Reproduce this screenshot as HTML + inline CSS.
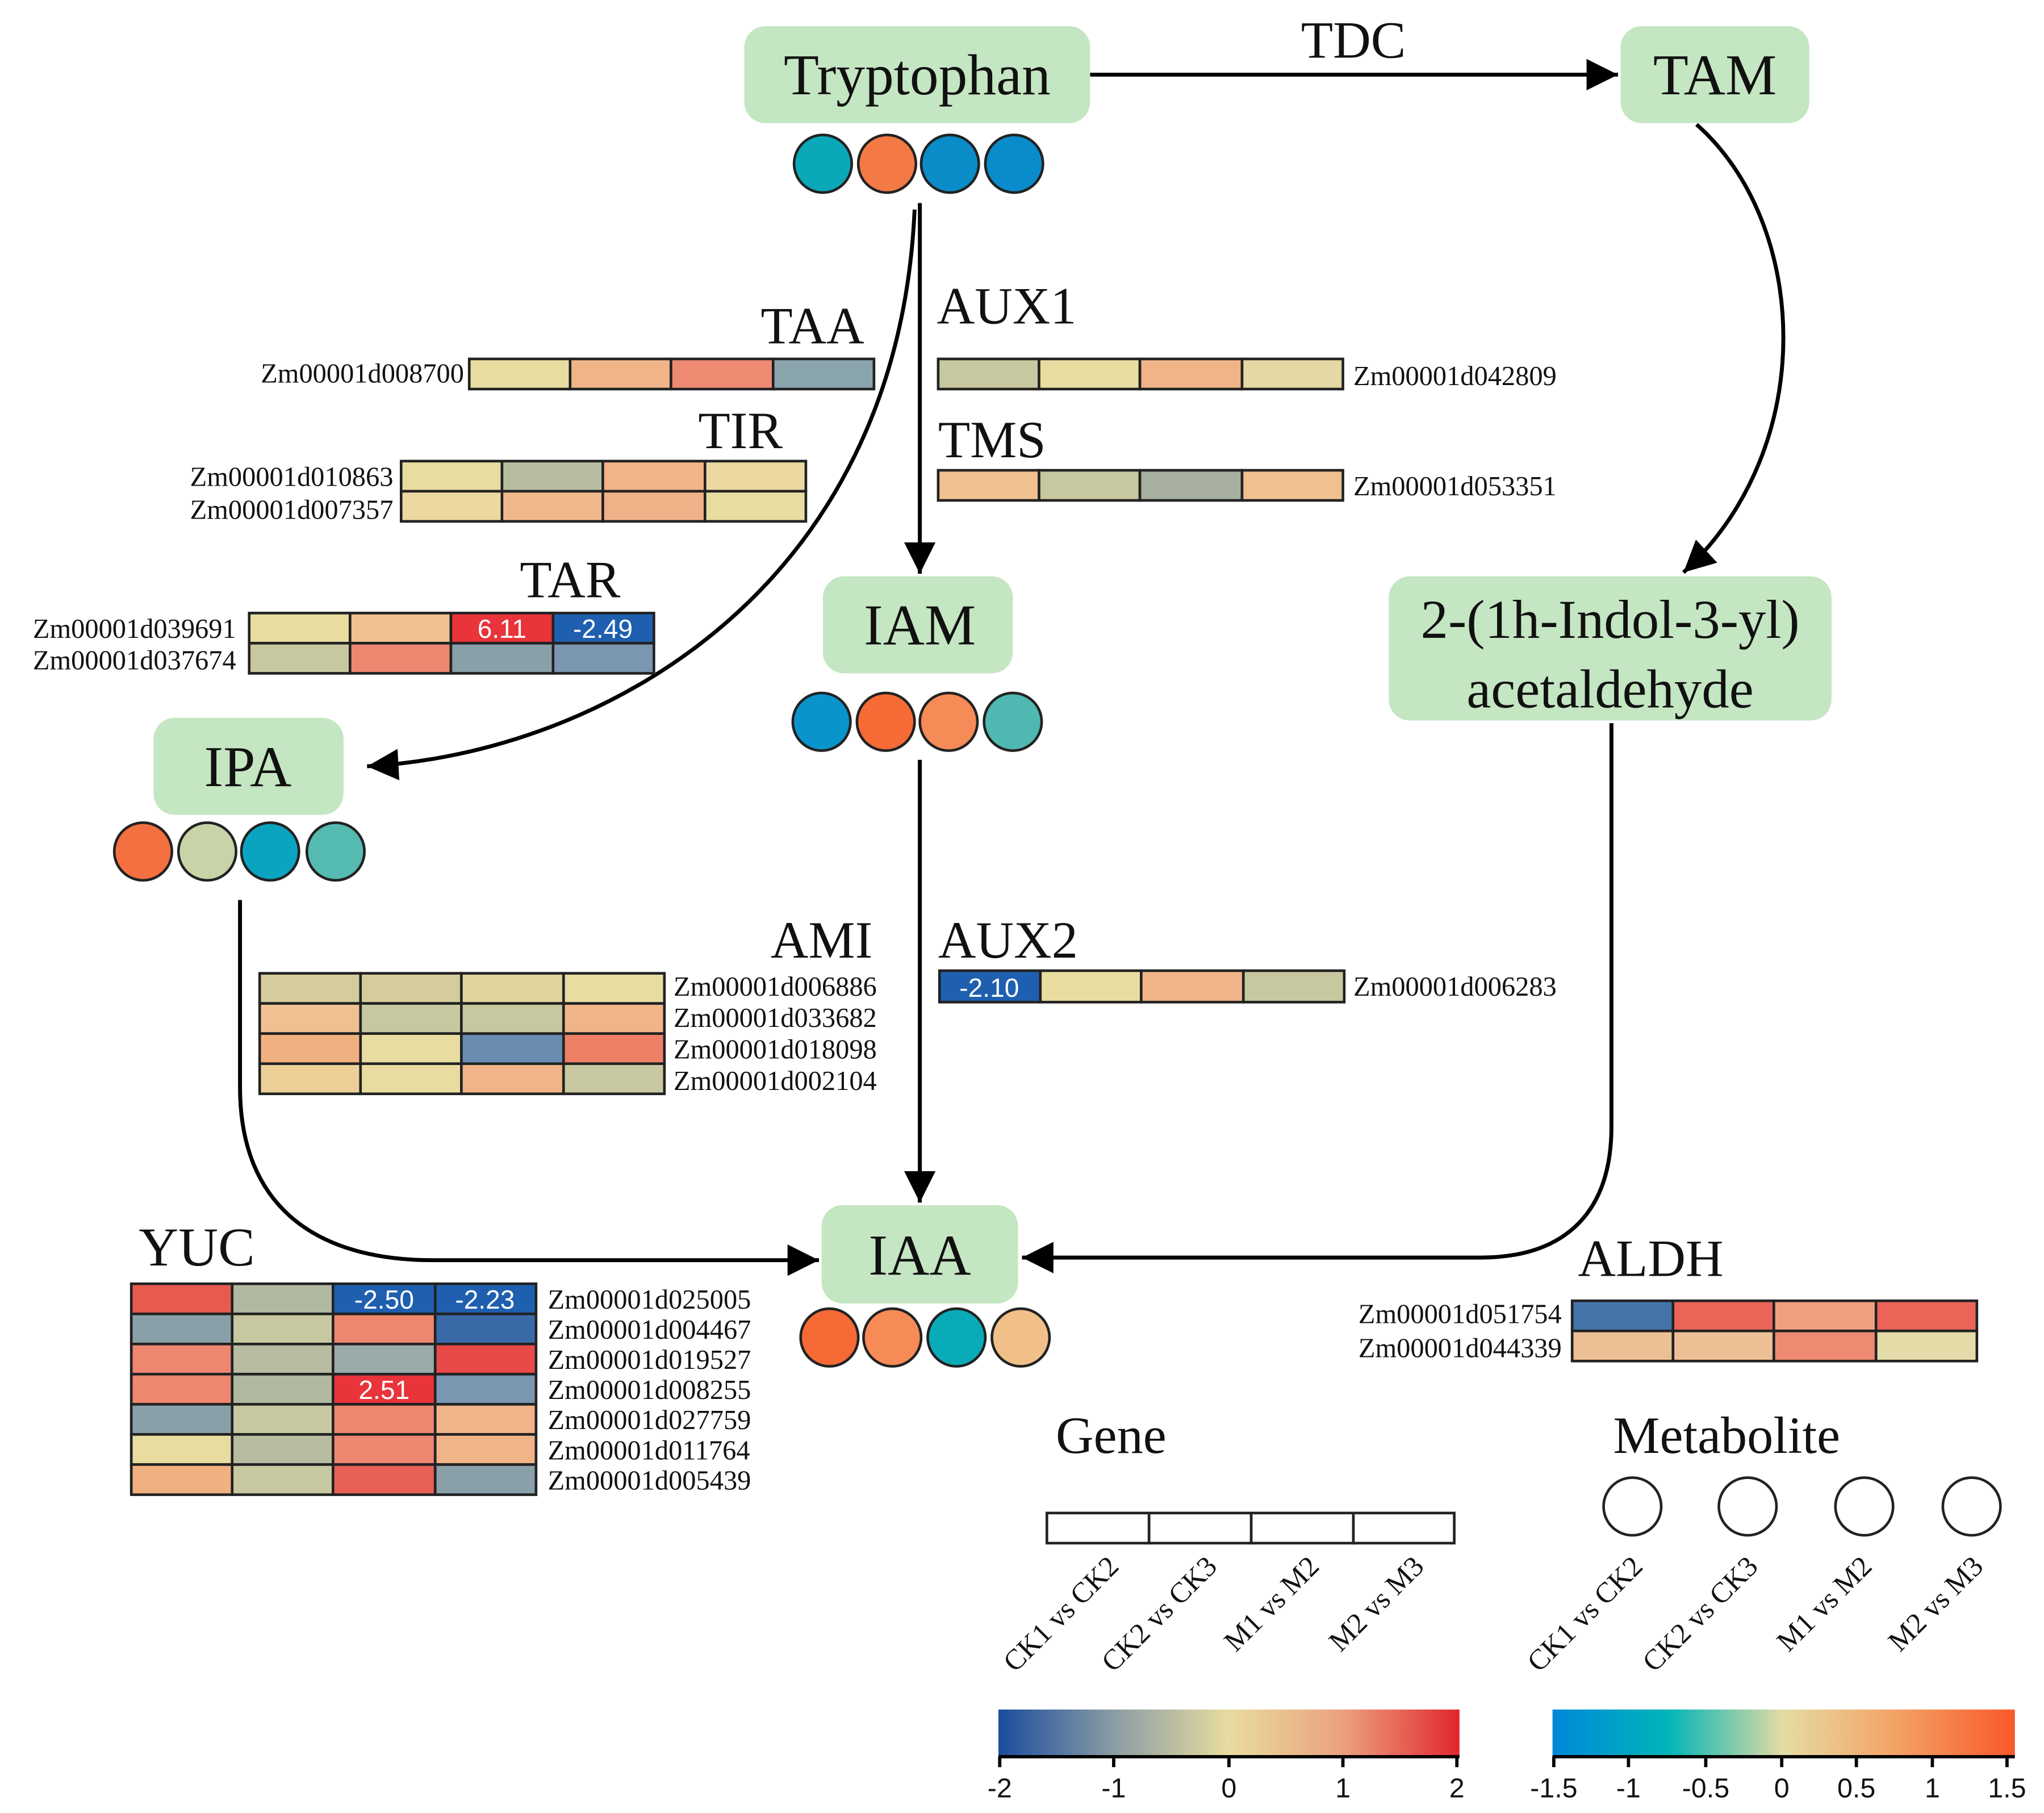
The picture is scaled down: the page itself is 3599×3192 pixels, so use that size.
<!DOCTYPE html>
<html><head><meta charset="utf-8"><style>
html,body{margin:0;padding:0;background:#fff;}
svg{display:block;}
.s{font-family:"Liberation Serif",serif;fill:#111;}
.n{font-family:"Liberation Sans",sans-serif;fill:#fff;font-size:20px;text-anchor:middle;}
</style></head><body>
<svg width="3599" height="3192" viewBox="0 0 1560 1384" xmlns="http://www.w3.org/2000/svg">
<defs>
<marker id="a" markerWidth="10" markerHeight="10" refX="9" refY="5" orient="auto" markerUnits="userSpaceOnUse" viewBox="0 0 10 10">
<path d="M0,0 L10,5 L0,10 z" fill="#000"/></marker>
<marker id="A" viewBox="0 0 10 10" refX="10" refY="5" markerWidth="24" markerHeight="24" orient="auto" markerUnits="userSpaceOnUse"><path d="M0,0 L10,5 L0,10 z" fill="#000"/></marker>
<linearGradient id="g1" x1="0" x2="1"><stop offset="0" stop-color="#1a4d9e"/><stop offset="0.25" stop-color="#8a9ca4"/><stop offset="0.5" stop-color="#e8dca0"/><stop offset="0.75" stop-color="#eca07e"/><stop offset="1" stop-color="#e0262e"/></linearGradient>
<linearGradient id="g2" x1="0" x2="1"><stop offset="0" stop-color="#0088d8"/><stop offset="0.25" stop-color="#00b4b8"/><stop offset="0.5" stop-color="#e4dca4"/><stop offset="0.75" stop-color="#f4a064"/><stop offset="1" stop-color="#f8582a"/></linearGradient>
</defs>
<g fill="none" stroke="#000" stroke-width="3">
<path d="M832,57 L1235,57" marker-end="url(#A)"/>
<path d="M1295,95 C1380,170 1390,340 1285,437" marker-end="url(#A)"/>
<path d="M702,155 L702,438" marker-end="url(#A)"/>
<path d="M698,160 C685,450 460,575 280,585" marker-end="url(#A)"/>
<path d="M702,580 L702,918" marker-end="url(#A)"/>
<path d="M183,687 L183,830 C183,920 240,962 330,962 L625,962" marker-end="url(#A)"/>
<path d="M1230,552 L1230,860 C1230,930 1190,960 1130,960 L780,960" marker-end="url(#A)"/>
</g>
<g fill="#c4e6c2">
<rect x="568" y="20" width="264" height="74" rx="16"/>
<rect x="1237" y="20" width="144" height="74" rx="16"/>
<rect x="1060" y="440" width="338" height="110" rx="16"/>
<rect x="628" y="440" width="145" height="74" rx="16"/>
<rect x="117" y="548" width="145" height="74" rx="16"/>
<rect x="627" y="920" width="150" height="75" rx="16"/>
</g>
<g class="s" font-size="44" text-anchor="middle">
<text x="700" y="72">Tryptophan</text>
<text x="1309" y="72">TAM</text>
<text x="1229" y="487" font-size="42">2-(1h-Indol-3-yl)</text>
<text x="1229" y="540" font-size="42">acetaldehyde</text>
<text x="702" y="492">IAM</text>
<text x="189" y="600">IPA</text>
<text x="702" y="973">IAA</text>
</g>
<g class="s" font-size="40">
<text x="1033" y="44" text-anchor="middle">TDC</text>
<text x="620" y="262" text-anchor="middle">TAA</text>
<text x="715" y="247">AUX1</text>
<text x="565" y="342" text-anchor="middle">TIR</text>
<text x="716" y="349">TMS</text>
<text x="435" y="456" text-anchor="middle">TAR</text>
<text x="627" y="731" text-anchor="middle">AMI</text>
<text x="716" y="731">AUX2</text>
<text x="150" y="966" text-anchor="middle" font-size="42">YUC</text>
<text x="1260" y="974" text-anchor="middle">ALDH</text>
<text x="848" y="1109" text-anchor="middle">Gene</text>
<text x="1318" y="1109" text-anchor="middle">Metabolite</text>
</g>
<g stroke="#222" stroke-width="2">
<circle cx="628" cy="125" r="22" fill="#0aa8b8"/><circle cx="677" cy="125" r="22" fill="#f47a45"/><circle cx="725" cy="125" r="22" fill="#0a8cc8"/><circle cx="774" cy="125" r="22" fill="#0a8ccc"/>
<circle cx="627" cy="551" r="22" fill="#0a94cc"/><circle cx="676" cy="551" r="22" fill="#f56a35"/><circle cx="724" cy="551" r="22" fill="#f68b58"/><circle cx="773" cy="551" r="22" fill="#4fb8b0"/>
<circle cx="109" cy="650" r="22" fill="#f47040"/><circle cx="158" cy="650" r="22" fill="#c8d4a8"/><circle cx="206" cy="650" r="22" fill="#0aa4c0"/><circle cx="256" cy="650" r="22" fill="#55bab0"/>
<circle cx="633" cy="1021" r="22" fill="#f56a35"/><circle cx="681" cy="1021" r="22" fill="#f68b58"/><circle cx="730" cy="1021" r="22" fill="#0aabb8"/><circle cx="779" cy="1021" r="22" fill="#f0c088"/>
<circle cx="1246" cy="1150" r="22" fill="#fff"/><circle cx="1334" cy="1150" r="22" fill="#fff"/><circle cx="1423" cy="1150" r="22" fill="#fff"/><circle cx="1505" cy="1150" r="22" fill="#fff"/>
</g>
<g stroke="#222" stroke-width="2">
<!-- TAA -->
<rect x="358" y="274" width="77" height="23" fill="#e8dca0"/><rect x="435" y="274" width="77" height="23" fill="#f0b488"/><rect x="512" y="274" width="78" height="23" fill="#ef8a72"/><rect x="590" y="274" width="77" height="23" fill="#8aa4ac"/>
<!-- AUX1 -->
<rect x="716" y="274" width="77" height="23" fill="#c8c8a0"/><rect x="793" y="274" width="77" height="23" fill="#e8dca0"/><rect x="870" y="274" width="78" height="23" fill="#f0b488"/><rect x="948" y="274" width="77" height="23" fill="#e4d8a4"/>
<!-- TIR -->
<rect x="306" y="352" width="77" height="23" fill="#e8dca0"/><rect x="383" y="352" width="77" height="23" fill="#b8bca0"/><rect x="460" y="352" width="78" height="23" fill="#f0b488"/><rect x="538" y="352" width="77" height="23" fill="#ecd8a0"/>
<rect x="306" y="375" width="77" height="23" fill="#ecd8a0"/><rect x="383" y="375" width="77" height="23" fill="#f0b88a"/><rect x="460" y="375" width="78" height="23" fill="#f0b088"/><rect x="538" y="375" width="77" height="23" fill="#e8dca0"/>
<!-- TMS -->
<rect x="716" y="359" width="77" height="23" fill="#f0c090"/><rect x="793" y="359" width="77" height="23" fill="#c8c8a0"/><rect x="870" y="359" width="78" height="23" fill="#a8b0a0"/><rect x="948" y="359" width="77" height="23" fill="#f0c090"/>
<!-- TAR -->
<rect x="190" y="468" width="77" height="23" fill="#e8dca0"/><rect x="267" y="468" width="77" height="23" fill="#efc090"/><rect x="344" y="468" width="78" height="23" fill="#e8343a"/><rect x="422" y="468" width="77" height="23" fill="#1f5fb0"/>
<rect x="190" y="491" width="77" height="23" fill="#c8c8a0"/><rect x="267" y="491" width="77" height="23" fill="#ee8670"/><rect x="344" y="491" width="78" height="23" fill="#8aa0a8"/><rect x="422" y="491" width="77" height="23" fill="#7a96b0"/>
<!-- AMI -->
<rect x="198" y="743" width="77" height="23" fill="#d4cc9c"/><rect x="275" y="743" width="77" height="23" fill="#d4cc9c"/><rect x="352" y="743" width="78" height="23" fill="#e0d49c"/><rect x="430" y="743" width="77" height="23" fill="#e8dca0"/>
<rect x="198" y="766" width="77" height="23" fill="#f0c090"/><rect x="275" y="766" width="77" height="23" fill="#c8c8a0"/><rect x="352" y="766" width="78" height="23" fill="#c8c8a0"/><rect x="430" y="766" width="77" height="23" fill="#f0b488"/>
<rect x="198" y="789" width="77" height="23" fill="#f0b080"/><rect x="275" y="789" width="77" height="23" fill="#e8dca0"/><rect x="352" y="789" width="78" height="23" fill="#6a8cb0"/><rect x="430" y="789" width="77" height="23" fill="#ee8068"/>
<rect x="198" y="812" width="77" height="23" fill="#ecd098"/><rect x="275" y="812" width="77" height="23" fill="#e8dca0"/><rect x="352" y="812" width="78" height="23" fill="#f0b488"/><rect x="430" y="812" width="77" height="23" fill="#c8c8a0"/>
<!-- AUX2 -->
<rect x="717" y="741" width="77" height="24" fill="#1f5fb0"/><rect x="794" y="741" width="77" height="24" fill="#e8dca0"/><rect x="871" y="741" width="78" height="24" fill="#f0b488"/><rect x="949" y="741" width="77" height="24" fill="#c8c8a0"/>
<!-- YUC -->
<rect x="100" y="980" width="77" height="23" fill="#e85a50"/><rect x="177" y="980" width="77" height="23" fill="#b0b8a0"/><rect x="254" y="980" width="78" height="23" fill="#1f5fb0"/><rect x="332" y="980" width="77" height="23" fill="#1f5fb0"/>
<rect x="100" y="1003" width="77" height="23" fill="#8aa0a8"/><rect x="177" y="1003" width="77" height="23" fill="#c8c8a0"/><rect x="254" y="1003" width="78" height="23" fill="#ee8670"/><rect x="332" y="1003" width="77" height="23" fill="#3a6aa8"/>
<rect x="100" y="1026" width="77" height="23" fill="#ee8670"/><rect x="177" y="1026" width="77" height="23" fill="#b8bca0"/><rect x="254" y="1026" width="78" height="23" fill="#9aaaa8"/><rect x="332" y="1026" width="77" height="23" fill="#e84a48"/>
<rect x="100" y="1049" width="77" height="23" fill="#ee8670"/><rect x="177" y="1049" width="77" height="23" fill="#b0b8a0"/><rect x="254" y="1049" width="78" height="23" fill="#e8343a"/><rect x="332" y="1049" width="77" height="23" fill="#7a96b0"/>
<rect x="100" y="1072" width="77" height="23" fill="#8aa0a8"/><rect x="177" y="1072" width="77" height="23" fill="#c8c8a0"/><rect x="254" y="1072" width="78" height="23" fill="#ee8670"/><rect x="332" y="1072" width="77" height="23" fill="#f0b488"/>
<rect x="100" y="1095" width="77" height="23" fill="#e8dca0"/><rect x="177" y="1095" width="77" height="23" fill="#b8bca0"/><rect x="254" y="1095" width="78" height="23" fill="#ee8670"/><rect x="332" y="1095" width="77" height="23" fill="#f0b488"/>
<rect x="100" y="1118" width="77" height="23" fill="#f0b080"/><rect x="177" y="1118" width="77" height="23" fill="#c8c8a0"/><rect x="254" y="1118" width="78" height="23" fill="#e86058"/><rect x="332" y="1118" width="77" height="23" fill="#8aa0a8"/>
<!-- ALDH -->
<rect x="1200" y="993" width="77" height="23" fill="#4574a8"/><rect x="1277" y="993" width="77" height="23" fill="#ea6458"/><rect x="1354" y="993" width="78" height="23" fill="#eea07e"/><rect x="1432" y="993" width="77" height="23" fill="#ea6458"/>
<rect x="1200" y="1016" width="77" height="23" fill="#ecc094"/><rect x="1277" y="1016" width="77" height="23" fill="#ecc094"/><rect x="1354" y="1016" width="78" height="23" fill="#ee8a72"/><rect x="1432" y="1016" width="77" height="23" fill="#e4dca8"/>
<!-- Gene legend -->
<rect x="799" y="1155" width="78" height="23" fill="#fff"/><rect x="877" y="1155" width="78" height="23" fill="#fff"/><rect x="955" y="1155" width="78" height="23" fill="#fff"/><rect x="1033" y="1155" width="77" height="23" fill="#fff"/>
</g>
<g>
<text class="n" x="383" y="487">6.11</text><text class="n" x="460" y="487">-2.49</text>
<text class="n" x="755" y="761">-2.10</text>
<text class="n" x="293" y="999">-2.50</text><text class="n" x="370" y="999">-2.23</text>
<text class="n" x="293" y="1068">2.51</text>
</g>
<g class="s" font-size="21">
<text x="354" y="292" text-anchor="end">Zm00001d008700</text>
<text x="1033" y="294">Zm00001d042809</text>
<text x="300" y="371" text-anchor="end">Zm00001d010863</text>
<text x="300" y="396" text-anchor="end">Zm00001d007357</text>
<text x="1033" y="378">Zm00001d053351</text>
<text x="180" y="487" text-anchor="end">Zm00001d039691</text>
<text x="180" y="511" text-anchor="end">Zm00001d037674</text>
<text x="514" y="760">Zm00001d006886</text>
<text x="514" y="784">Zm00001d033682</text>
<text x="514" y="808">Zm00001d018098</text>
<text x="514" y="832">Zm00001d002104</text>
<text x="1033" y="760">Zm00001d006283</text>
<text x="418" y="999">Zm00001d025005</text>
<text x="418" y="1022">Zm00001d004467</text>
<text x="418" y="1045">Zm00001d019527</text>
<text x="418" y="1068">Zm00001d008255</text>
<text x="418" y="1091">Zm00001d027759</text>
<text x="418" y="1114">Zm00001d011764</text>
<text x="418" y="1137">Zm00001d005439</text>
<text x="1192" y="1010" text-anchor="end">Zm00001d051754</text>
<text x="1192" y="1036" text-anchor="end">Zm00001d044339</text>
</g>
<g class="s" font-size="22" text-anchor="end">
<text transform="translate(855,1197) rotate(-45)">CK1 vs CK2</text>
<text transform="translate(930,1197) rotate(-45)">CK2 vs CK3</text>
<text transform="translate(1008,1197) rotate(-45)">M1 vs M2</text>
<text transform="translate(1088,1197) rotate(-45)">M2 vs M3</text>
<text transform="translate(1255,1197) rotate(-45)">CK1 vs CK2</text>
<text transform="translate(1343,1197) rotate(-45)">CK2 vs CK3</text>
<text transform="translate(1430,1197) rotate(-45)">M1 vs M2</text>
<text transform="translate(1515,1197) rotate(-45)">M2 vs M3</text>
</g>
<rect x="762" y="1305" width="352" height="35" fill="url(#g1)"/>
<rect x="1185" y="1305" width="353" height="35" fill="url(#g2)"/>
<g stroke="#000" stroke-width="2.5">
<line x1="762" y1="1341" x2="1114" y2="1341"/><line x1="1185" y1="1341" x2="1538" y2="1341"/>
<line x1="763" y1="1341" x2="763" y2="1349"/><line x1="850" y1="1341" x2="850" y2="1349"/><line x1="938" y1="1341" x2="938" y2="1349"/><line x1="1025" y1="1341" x2="1025" y2="1349"/><line x1="1112" y1="1341" x2="1112" y2="1349"/>
<line x1="1186" y1="1341" x2="1186" y2="1349"/><line x1="1243" y1="1341" x2="1243" y2="1349"/><line x1="1302" y1="1341" x2="1302" y2="1349"/><line x1="1360" y1="1341" x2="1360" y2="1349"/><line x1="1417" y1="1341" x2="1417" y2="1349"/><line x1="1475" y1="1341" x2="1475" y2="1349"/><line x1="1532" y1="1341" x2="1532" y2="1349"/>
</g>
<g font-family="Liberation Sans, sans-serif" font-size="21" fill="#111" text-anchor="middle">
<text x="763" y="1372">-2</text><text x="850" y="1372">-1</text><text x="938" y="1372">0</text><text x="1025" y="1372">1</text><text x="1112" y="1372">2</text>
<text x="1186" y="1372">-1.5</text><text x="1243" y="1372">-1</text><text x="1302" y="1372">-0.5</text><text x="1360" y="1372">0</text><text x="1417" y="1372">0.5</text><text x="1475" y="1372">1</text><text x="1532" y="1372">1.5</text>
</g>
</svg>
</body></html>
